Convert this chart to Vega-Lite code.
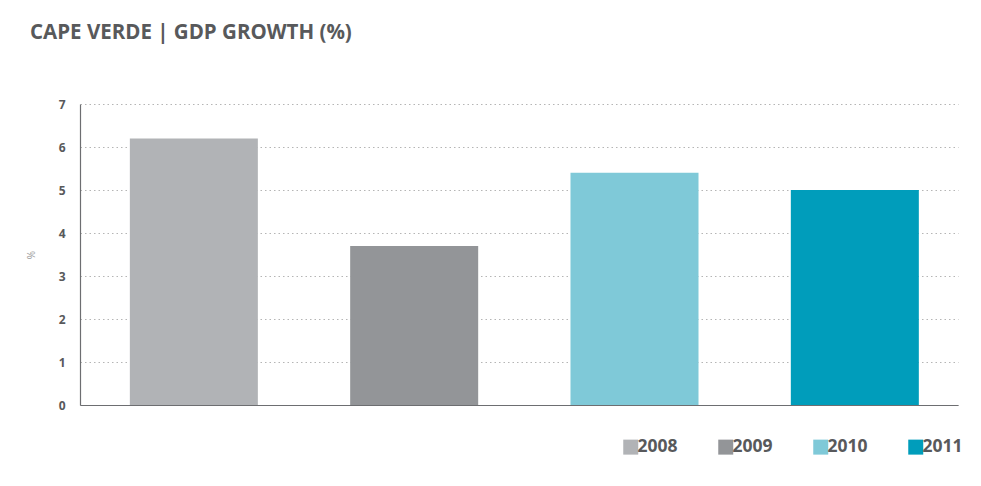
{
  "$schema": "https://vega.github.io/schema/vega-lite/v6.json",
  "autosize": "none",
  "width": 878,
  "height": 301,
  "padding": {"left": 80, "top": 104, "right": 23, "bottom": 81},
  "background": "white",
  "title": {
    "text": "CAPE VERDE  |  GDP GROWTH (%)",
    "anchor": "start",
    "frame": "group",
    "dx": -50,
    "offset": 55,
    "font": "Open Sans",
    "fontSize": 20.5,
    "fontWeight": "bold",
    "color": "#58595b"
  },
  "data": {
    "values": [
      {"year": "2008", "growth": 6.2},
      {"year": "2009", "growth": 3.7},
      {"year": "2010", "growth": 5.4},
      {"year": "2011", "growth": 5.0}
    ]
  },
  "mark": {"type": "bar"},
  "encoding": {
    "x": {
      "field": "year",
      "type": "nominal",
      "scale": {"paddingInner": 0.419, "paddingOuter": 0.202, "align": 0.56},
      "axis": {
        "title": null,
        "labels": false,
        "ticks": false,
        "domainColor": "#6d6e71",
        "domainWidth": 1.2,
        "grid": false
      }
    },
    "y": {
      "field": "growth",
      "type": "quantitative",
      "scale": {"domain": [0, 7], "nice": false},
      "axis": {
        "title": "%",
        "titleFont": "Open Sans",
        "titleFontSize": 10,
        "titleFontWeight": "normal",
        "titleColor": "#9a9a9a",
        "titlePadding": 22,
        "values": [0, 1, 2, 3, 4, 5, 6, 7],
        "ticks": false,
        "labelPadding": 15,
        "labelFont": "Open Sans",
        "labelFontSize": 12,
        "labelFontWeight": "bold",
        "labelColor": "#58595b",
        "domainColor": "#6d6e71",
        "domainWidth": 1.2,
        "grid": true,
        "gridColor": "#b5b5b5",
        "gridDash": [1.5, 3],
        "gridWidth": 1
      }
    },
    "color": {
      "field": "year",
      "type": "nominal",
      "scale": {
        "domain": ["2008", "2009", "2010", "2011"],
        "range": ["#b1b3b6", "#939598", "#7fc9d8", "#009dbb"]
      },
      "legend": {
        "title": null,
        "orient": "none",
        "direction": "horizontal",
        "legendX": 542,
        "legendY": 334,
        "padding": 0,
        "symbolType": "square",
        "symbolSize": 225,
        "symbolStrokeWidth": 0,
        "symbolOpacity": 1,
        "labelOffset": -2,
        "columnPadding": 39,
        "labelFont": "Open Sans",
        "labelFontSize": 17.5,
        "labelFontWeight": "bold",
        "labelColor": "#58595b"
      }
    }
  },
  "config": {
    "view": {"stroke": null}
  }
}
